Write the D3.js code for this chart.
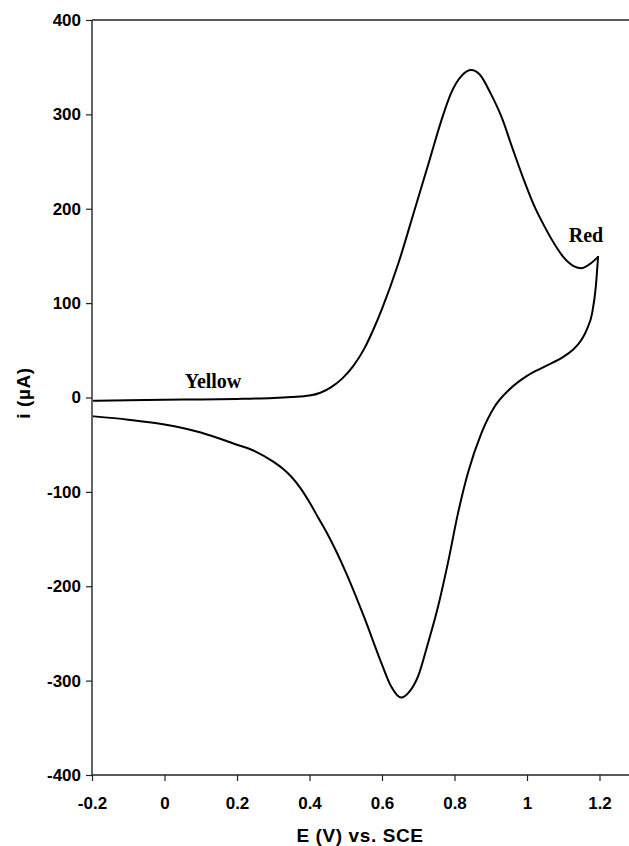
<!DOCTYPE html>
<html>
<head>
  <meta charset="utf-8">
  <script src="https://cdn.jsdelivr.net/npm/d3@7"></script>
  <style>
    body { margin: 0; background: #fff; }
    .tick text { font-family: "Liberation Sans", Arial, sans-serif; font-weight: bold; font-size: 17px; fill: #000; }
    .lbl { font-family: "Liberation Sans", Arial, sans-serif; font-weight: bold; font-size: 19px; letter-spacing: 0.6px; }
    .note { font-family: "Liberation Serif", "Times New Roman", serif; font-weight: bold; font-size: 20px; }
  </style>
</head>
<body>
<svg id="chart" width="629" height="846"></svg>
<script>
// forward scan (anodic), E in V, i in uA
var fwdE = [-0.195, -0.1, 0, 0.1, 0.2, 0.3, 0.35, 0.4, 0.43, 0.46, 0.49, 0.52, 0.55, 0.575, 0.6, 0.645, 0.69, 0.73, 0.765, 0.79, 0.82, 0.846,
            0.87, 0.9, 0.93, 0.96, 0.99, 1.02, 1.05, 1.08, 1.1, 1.13, 1.15, 1.172, 1.196];
var fwdI = [-3.5, -3, -2.5, -2, -1.5, -0.5, 0.5, 2, 5, 11, 20, 33, 51, 71, 94, 142, 199, 250, 295, 322, 341, 347,
            342, 322, 297, 264, 232, 203, 180, 160, 149, 139, 137, 141, 149];
// reverse scan (cathodic), listed from low to high potential
var revE = [-0.195, -0.1, 0, 0.1, 0.2, 0.25, 0.3, 0.325, 0.35, 0.375, 0.4, 0.425, 0.45, 0.5, 0.55, 0.6, 0.625, 0.653, 0.675, 0.7, 0.725, 0.755, 0.782, 0.81,
            0.837, 0.874, 0.91, 0.95, 1.0, 1.05, 1.1, 1.125, 1.15, 1.165, 1.18, 1.19, 1.196];
var revI = [-20, -23.5, -28.5, -37, -50, -57, -68, -75, -84, -96, -111, -128, -145, -185, -232, -283, -306, -318, -312, -295, -263, -221, -175, -122,
            -80, -38, -10, 8, 23, 33, 43, 50, 61, 72, 90, 118, 149];

var xTicks = [-0.2, 0, 0.2, 0.4, 0.6, 0.8, 1, 1.2];
var yTicks = [-400, -300, -200, -100, 0, 100, 200, 300, 400];

var svg = d3.select('#chart');
var x = d3.scaleLinear().domain([-0.2, 1.4]).range([92, 672]);
var y = d3.scaleLinear().domain([-400, 400]).range([775, 20]);

// frame top line
svg.append('line')
  .attr('x1', x(-0.2)).attr('x2', 640)
  .attr('y1', y(400)).attr('y2', y(400))
  .attr('stroke', '#222').attr('stroke-width', 1.4);

var xAxis = svg.append('g')
  .attr('transform', 'translate(0,' + y(-400) + ')')
  .call(d3.axisBottom(x).tickValues(xTicks).tickSize(6).tickPadding(16).tickFormat(d => String(d)));
xAxis.select('.domain').attr('d', 'M' + x(-0.2) + ',0H640').attr('stroke', '#222').attr('stroke-width', 1.4);
xAxis.selectAll('.tick line').attr('stroke', '#222').attr('stroke-width', 1.2);

var yAxis = svg.append('g')
  .attr('transform', 'translate(' + x(-0.2) + ',0)')
  .call(d3.axisLeft(y).tickValues(yTicks).tickSize(6).tickPadding(5).tickFormat(d => String(d)));
yAxis.select('.domain').attr('d', 'M0,' + y(400) + 'V' + y(-400)).attr('stroke', '#222').attr('stroke-width', 1.4);
yAxis.selectAll('.tick line').attr('stroke', '#222').attr('stroke-width', 1.2);

var line = d3.line()
  .x(d => x(d[0]))
  .y(d => y(d[1]))
  .curve(d3.curveMonotoneX);

var scans = [
  fwdE.map((e, k) => [e, fwdI[k]]),
  revE.map((e, k) => [e, revI[k]])
];

svg.selectAll('path.cv')
  .data(scans)
  .enter().append('path')
  .attr('class', 'cv')
  .attr('d', line)
  .attr('fill', 'none')
  .attr('stroke', '#000')
  .attr('stroke-width', 2)
  .attr('stroke-linecap', 'round')
  .attr('stroke-linejoin', 'round');

// labels
svg.append('text').attr('class', 'lbl')
  .attr('x', 360).attr('y', 842)
  .attr('text-anchor', 'middle')
  .text('E (V) vs. SCE');

svg.append('text').attr('class', 'lbl')
  .attr('transform', 'translate(30,393) rotate(-90)')
  .attr('text-anchor', 'middle')
  .text('i (\u00B5A)');

svg.append('text').attr('class', 'note')
  .attr('x', 213).attr('y', 388)
  .attr('text-anchor', 'middle')
  .text('Yellow');

svg.append('text').attr('class', 'note')
  .attr('x', 586).attr('y', 242)
  .attr('text-anchor', 'middle')
  .text('Red');
</script>
</body>
</html>
